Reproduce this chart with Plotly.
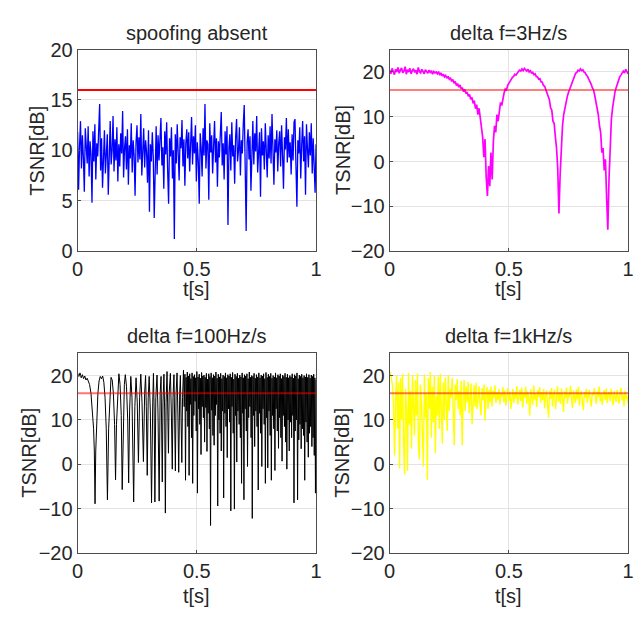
import numpy as np
import plotly.graph_objects as go

# ---------------- data ----------------
titles = ["spoofing absent", "delta f=3Hz/s", "delta f=100Hz/s", "delta f=1kHz/s"]
threshold = 16.0
x_ticks = [0, 0.5, 1]
x_tick_text = ["0", "0.5", "1"]
y_ticks_a = [0, 5, 10, 15, 20]
y_ticks_b = [-20, -10, 0, 10, 20]

tsnr_absent = [
    11.8, 6.1, 10.4, 12.9, 8.2, 11.5, 9.3, 5.9, 12.2, 10.1,
    8.7, 12.4, 7.4, 10.9, 9.6, 4.8, 11.9, 8.9, 12.6, 7.1,
    10.7, 9.4, 13.1, 14.6, 8.0, 11.2, 6.3, 10.8, 12.0, 7.7,
    9.9, 11.6, 5.6, 10.3, 12.9, 8.6, 10.0, 13.4, 7.9, 11.1,
    9.0, 12.3, 6.9, 10.6, 8.4, 11.7, 9.7, 13.9, 7.3, 10.2,
    11.4, 8.1, 12.1, 6.6, 10.5, 9.2, 12.7, 7.8, 11.0, 9.5,
    5.5, 10.8, 12.5, 8.8, 11.3, 9.1, 13.6, 7.5, 10.4, 12.2,
    8.3, 11.0, 9.8, 6.8, 12.0, 3.9, 10.6, 8.9, 11.8, 9.3,
    3.3, 10.1, 12.4, 7.6, 11.5, 9.0, 10.9, 13.2, 8.5, 10.3,
    6.2, 11.9, 9.6, 12.8, 8.0, 4.7, 11.2, 9.4, 12.3, 7.2,
    10.0, 1.2, 11.6, 8.7, 12.6, 9.9, 7.0, 11.3, 10.2, 13.0,
    8.4, 11.1, 6.5, 10.7, 12.1, 9.2, 11.8, 7.9, 10.5, 13.3,
    8.6, 11.4, 9.7, 12.5, 6.9, 10.8, 9.0, 4.7, 11.7, 10.3,
    7.4, 12.2, 9.5, 14.6, 8.2, 11.0, 10.6, 5.1, 12.7, 9.8,
    11.5, 7.7, 10.4, 12.9, 8.8, 11.2, 6.4, 10.9, 9.3, 12.0,
    13.8, 8.5, 10.7, 7.1, 11.9, 9.6, 12.4, 2.6, 10.2, 11.6,
    8.0, 12.8, 9.4, 10.5, 6.7, 11.3, 13.1, 8.9, 10.0, 12.3,
    7.5, 11.0, 9.7, 12.6, 14.5, 8.3, 2.0, 10.8, 12.1, 9.1,
    11.4, 6.0, 10.6, 12.9, 8.6, 11.7, 9.9, 13.4, 7.8, 10.3,
    11.8, 5.4, 12.2, 9.5, 10.9, 8.1, 12.7, 10.0, 7.3, 11.5,
    9.2, 12.4, 8.7, 13.6, 10.4, 6.6, 11.1, 9.8, 12.0, 7.9,
    10.7, 11.9, 8.4, 12.5, 9.6, 6.2, 11.3, 10.1, 13.2, 8.8,
    12.1, 9.3, 10.8, 7.6, 11.6, 9.0, 12.8, 13.1, 8.5, 4.4,
    11.0, 9.7, 12.3, 7.2, 10.5, 12.9, 8.9, 11.4, 5.6, 12.6,
    10.2, 8.3, 11.8, 9.5, 12.7, 7.7, 11.2, 9.1, 5.8, 10.6,
]

tsnr_3hz = [
    20.3, 19.6, 20.8, 20.1, 19.4, 20.6, 20.0, 21.0, 19.7, 20.4,
    20.9, 19.8, 20.2, 21.2, 19.5, 20.5, 20.0, 20.8, 19.6, 20.3,
    20.7, 19.9, 20.4, 19.5, 21.0, 20.1, 19.8, 20.6, 20.0, 19.6,
    20.5, 20.2, 19.7, 20.4, 19.9, 20.3, 19.5, 20.1, 19.8, 20.0,
    19.6, 20.1, 19.3, 19.8, 19.1, 19.5, 18.9, 19.2, 18.6, 19.0,
    18.4, 18.7, 17.9, 18.3, 17.5, 17.9, 17.0, 17.4, 16.6, 17.1,
    16.2, 16.5, 15.6, 16.1, 15.2, 15.5, 14.6, 15.0, 13.9, 14.3,
    13.0, 13.6, 11.8, 12.7, 10.5, 11.9,
    9.5, 7.0, 5.5, 1.0, 5.0, -3.5, -7.7, -1.0, -5.5, 2.0, -4.0, 4.5, 8.0, 6.5,
    10.5, 9.0, 12.0, 13.2, 12.5, 14.5, 15.3, 16.2, 16.0, 17.0,
    17.5, 17.9, 18.4, 18.8, 19.0, 19.5, 19.3, 19.9, 20.1, 20.4,
    20.2, 20.7, 20.3, 20.8, 20.5, 20.2, 20.6, 20.0, 20.3, 19.8,
    19.9, 19.4, 19.6, 19.0, 18.9, 18.4, 18.5, 17.8, 17.7, 17.0,
    16.8, 16.0, 15.6, 14.5, 13.8, 12.0, 11.5, 9.0, 8.5, 5.5,
    3.0, -1.5, -11.6, -3.0, 4.0, 8.0, 10.5, 12.0, 13.5, 14.5, 15.4, 16.2, 17.0,
    17.8, 18.6, 19.0, 19.7, 19.9, 20.4, 20.2, 20.7, 20.3, 20.5,
    20.0, 19.8, 19.3, 19.0, 18.4, 17.9, 17.3, 16.5, 16.0, 14.8, 13.5, 12.0,
    10.5, 8.0, 6.5, 2.0, 3.0, -2.0, 0.5, -8.0, -15.2,
    -4.0, 5.0, 9.5, 12.0, 14.0, 15.5, 16.5,
    17.5, 18.2, 18.9, 19.3, 19.8, 20.2, 19.8, 20.6, 20.1, 19.6,
]

# 100 Hz/s: early (sparse) part as explicit time/value pairs
t_100_early = [
    0.0, 0.005, 0.01, 0.015, 0.02, 0.025, 0.03, 0.035, 0.04, 0.045, 0.05,
    0.056, 0.062, 0.067, 0.07, 0.073, 0.076, 0.08, 0.085, 0.09, 0.095, 0.1, 0.105,
    0.11, 0.115, 0.12, 0.125, 0.13, 0.135, 0.14, 0.145, 0.15, 0.155, 0.159, 0.163,
    0.168, 0.173, 0.178, 0.183, 0.187, 0.191, 0.196, 0.2, 0.205, 0.21, 0.214, 0.218,
    0.223, 0.228, 0.235, 0.24, 0.245, 0.25, 0.255, 0.26, 0.265, 0.27, 0.276, 0.281,
    0.285, 0.288, 0.292, 0.296, 0.3, 0.305, 0.31, 0.315, 0.318, 0.321, 0.324, 0.328,
    0.333, 0.337, 0.342, 0.346, 0.35, 0.352, 0.355, 0.358, 0.362, 0.365, 0.368, 0.371,
    0.375, 0.378, 0.381, 0.384, 0.389, 0.393, 0.397, 0.4, 0.404, 0.407, 0.41, 0.413,
    0.417, 0.421, 0.424, 0.428, 0.431, 0.434, 0.437, 0.44, 0.444, 0.447,
]
tsnr_100_early = [
    20.5, 19.8, 20.6, 19.5, 20.2, 19.3, 19.9, 19.0, 19.4, 18.6, 18.0,
    16.0, 12.0, 8.0, 3.0, -8.9, 3.0, 11.0, 16.0, 18.8, 19.8, 19.3, 19.9,
    18.5, 15.0, 8.0, -8.0, 8.0, 16.0, 19.6, 19.0, 16.0, 9.0, -3.5, 9.0,
    17.0, 20.4, 18.0, 11.0, -5.7, 10.0, 18.0, 20.2, 17.5, 10.0, -4.2, 12.0,
    19.8, 15.0, -8.5, 13.0, 19.5, 14.0, 0.4, 15.0, 20.3, 14.0, 0.6, 16.0,
    20.0, 13.0, -2.5, 15.0, 19.8, 12.0, -8.7, 14.0, 20.5, 12.0, -8.5, 15.0,
    20.1, 12.0, -8.3, 16.0, 19.8, 10.0, -4.0, 14.0, 20.3, 12.0, -11.0, 14.0,
    20.9, 12.0, 2.5, 16.0, 20.5, 12.0, -1.1, 15.0, 20.2, 10.0, -1.5, 16.0,
    20.6, 10.0, -1.8, 16.0, 20.0, 10.0, 0.4, 15.0, 21.2, 13.0,
]
# 100 Hz/s: dense part from t=0.45 to 1, (peak, trough) pairs on an even grid
tsnr_100_dense = [
    20.3, -3.6, 19.6, 12.0, 20.8, 8.5, 19.9, -2.5, 20.4, 13.5,
    19.3, 6.0, 20.6, -4.3, 19.8, 11.0, 20.2, 14.2, 19.5, 7.5,
    20.9, -6.5, 19.7, 12.5, 20.3, 9.0, 19.4, 2.2, 20.7, 13.0,
    19.9, 10.5, 20.1, 5.0, 19.6, 12.8, 20.5, 2.9, 19.2, 11.5,
    20.4, 8.0, 19.8, -13.8, 20.6, 12.2, 19.5, 6.5, 20.2, 4.3,
    19.9, 11.0, 20.8, 13.5, 19.4, -9.4, 20.3, 10.0, 19.7, 7.0,
    20.5, 3.0, 19.3, 12.0, 20.1, -7.6, 19.8, 11.5, 20.6, 8.5,
    19.5, 1.5, 20.2, 12.5, 19.9, 9.5, 20.4, -10.5, 19.6, 13.0,
    20.7, 7.0, 19.2, -10.1, 20.3, 11.0, 19.8, 0.5, 20.5, 12.0,
    19.4, 9.0, 20.1, 6.0, 19.7, -4.3, 20.6, 11.5, 19.5, -8.0,
    20.2, 12.5, 19.9, 7.5, 20.4, -0.5, 19.3, 10.5, 20.8, 13.0,
    19.6, 6.0, 20.0, -12.2, 19.8, 11.0, 20.5, 4.0, 19.4, 12.0,
    20.2, 8.5, 19.7, -5.8, 20.6, 11.5, 19.5, 7.0, 20.1, -0.5,
    19.9, 12.5, 20.4, 9.0, 19.3, -4.3, 20.7, 10.5, 19.6, -0.8,
    20.3, 12.0, 19.8, 6.5, 20.5, -3.6, 19.4, 11.0, 20.0, 8.0,
    19.7, -1.4, 20.6, 12.5, 19.5, 7.5, 20.2, 3.6, 19.9, 10.5,
    20.4, 6.0, 19.3, 0.7, 20.1, 11.0, 19.8, 8.5, 20.5, 5.0,
    19.6, -1.1, 20.3, 10.0, 19.5, 3.0, 20.0, 9.5, 19.7, 6.0,
    20.4, 11.0, 19.4, -8.7, 20.2, 7.5, 19.9, 10.0, 20.6, -8.0,
    19.3, 5.5, 20.1, 9.0, 19.8, 3.5, 20.3, 8.0, 19.5, 6.5,
    20.0, -3.6, 19.7, 9.5, 20.4, 5.0, 19.6, 1.6, 20.2, 7.0,
    19.4, 8.5, 20.1, 4.0, 19.8, 6.0, 20.3, 2.0, 19.5, -6.5,
    19.0,
]

tsnr_1khz = [
    20.9, 20.3, 19.0, 17.5, 12.0, 2.0, 15.0, 20.0, 8.0, 18.5,
    -0.9, 19.5, 10.0, 20.4, 5.0, -2.3, 17.0, 12.0, -1.5, 20.6,
    9.0, 16.5, 3.5, 20.2, 13.0, 6.5, 19.0, 11.0, 20.5, 4.0,
    1.1, 18.0, 14.0, 7.5, -0.5, 20.3, 10.5, 16.0, -3.6, 19.5,
    12.5, 20.8, 6.0, 17.5, 9.5, 20.0, 2.5, 15.5, 11.0, 19.8,
    8.0, 20.4, 13.5, 4.7, 18.5, 10.0, 19.6, 14.5, 7.5, 20.2,
    12.0, 17.0, 15.0, 19.5, 13.0, 4.3, 18.0, 14.5, 19.2, 12.5,
    16.5, 11.0, 18.8, 4.3, 15.0, 19.0, 12.0, 17.5, 14.0, 18.6,
    11.5, 16.0, 18.2, 9.1, 15.5, 17.8, 13.0, 18.4, 12.5, 16.5,
    17.6, 13.5, 11.0, 17.2, 14.5, 18.0, 9.8, 16.0, 17.4, 12.5,
    16.8, 14.0, 17.5, 13.0, 16.5, 15.0, 17.8, 13.8, 16.2, 14.5,
    17.0, 13.5, 16.0, 15.2, 17.4, 14.0, 16.6, 13.2, 15.8, 17.2,
    14.3, 16.4, 12.5, 15.6, 17.0, 13.8, 16.2, 14.8, 17.6, 13.5,
    15.9, 16.8, 14.2, 17.3, 12.8, 16.1, 15.0, 17.5, 13.6, 16.4,
    14.8, 11.0, 16.9, 15.3, 13.4, 17.8, 14.6, 16.0, 12.9, 16.7,
    15.2, 17.4, 13.9, 16.3, 14.5, 17.0, 12.6, 15.8, 16.6, 13.3,
    10.5, 16.5, 14.7, 17.2, 13.0, 15.9, 16.8, 12.4, 15.5, 17.6,
    14.1, 16.2, 13.6, 17.1, 15.0, 11.8, 16.4, 14.9, 17.3, 13.7,
    16.0, 15.1, 17.7, 14.4, 12.7, 16.6, 15.4, 13.8, 16.9, 14.6,
    17.4, 13.2, 15.7, 16.5, 14.0, 12.2, 16.3, 15.0, 17.0, 13.9,
    15.6, 16.8, 14.3, 13.0, 16.1, 15.5, 17.2, 14.7, 13.6, 16.4,
    15.2, 17.5, 14.1, 16.0, 13.4, 15.8, 16.7, 14.5, 17.1, 13.8,
    15.9, 16.3, 14.2, 17.0, 15.1, 13.3, 16.5, 15.6, 14.0, 16.8,
    15.3, 13.6, 16.2, 17.2, 14.4, 15.7, 13.1, 16.6, 14.8, 15.5,
    13.8,
]

# time axes (sample grids)
t_absent = np.linspace(0, 1, len(tsnr_absent))
t_3hz = np.linspace(0, 1, len(tsnr_3hz))
t_100 = list(t_100_early) + list(np.linspace(0.45, 1.0, len(tsnr_100_dense)))
tsnr_100 = tsnr_100_early + tsnr_100_dense
t_1khz = np.linspace(0, 1, len(tsnr_1khz))

# ---------------- figure ----------------
W, H = 638, 619
FONT = "Liberation Sans, Arial, sans-serif"
FS = 20
TXT = "#262626"

def px_x(p):
    return p / W

def px_y(p):
    return 1 - p / H

panels = [
    dict(t=t_absent, y=tsnr_absent, color="#0000ff", lw=1.3, rng=[0, 20], ticks=y_ticks_a,
         x0=73, x1=316, y0=40, y1=249, red="rgba(255,0,0,1)", ytitle_x=32,
         title_y=23, xtitle_y=288),
    dict(t=t_3hz, y=tsnr_3hz, color="#ff00ff", lw=1.7, rng=[-20, 25], ticks=y_ticks_b,
         x0=391, x1=634, y0=40, y1=249, red="rgba(255,0,0,0.5)", ytitle_x=344,
         title_y=23, xtitle_y=288),
    dict(t=t_100, y=tsnr_100, color="#000000", lw=1.0, rng=[-20, 25], ticks=y_ticks_b,
         x0=73, x1=316, y0=355, y1=562, red="rgba(255,0,0,0.55)", ytitle_x=24,
         title_y=337, xtitle_y=607),
    dict(t=t_1khz, y=tsnr_1khz, color="#ffff00", lw=1.4, rng=[-20, 25], ticks=y_ticks_b,
         x0=391, x1=634, y0=355, y1=562, red="rgba(255,0,0,0.55)", ytitle_x=343,
         title_y=337, xtitle_y=607),
]

fig = go.Figure()
annotations = []
for i, p in enumerate(panels):
    n = "" if i == 0 else str(i + 1)
    xa, ya = "x" + n, "y" + n
    fig.add_trace(go.Scatter(x=p["t"], y=p["y"], mode="lines", xaxis=xa, yaxis=ya,
                             line=dict(color=p["color"], width=p["lw"]), showlegend=False,
                             hoverinfo="skip"))
    fig.add_trace(go.Scatter(x=[0, 1], y=[threshold, threshold], mode="lines", xaxis=xa, yaxis=ya,
                             line=dict(color=p["red"], width=2), showlegend=False,
                             hoverinfo="skip"))
    axis_common = dict(showline=True, mirror=True, linecolor="#4d4d4d", linewidth=1,
                       showgrid=True, gridcolor="#e3e3e3", gridwidth=1, zeroline=False,
                       ticks="inside", ticklen=3, tickcolor="#4d4d4d",
                       tickfont=dict(family=FONT, size=FS, color=TXT))
    fig.update_layout(**{
        ("xaxis" + n): dict(domain=[px_x(p["x0"]), px_x(p["x1"])], range=[0, 1],
                            tickvals=x_ticks, ticktext=x_tick_text, anchor=ya, **axis_common),
        ("yaxis" + n): dict(domain=[px_y(p["y1"]), px_y(p["y0"])], range=p["rng"],
                            tickvals=p["ticks"], anchor=xa, **axis_common),
    })
    cx = (p["x0"] + p["x1"]) / 2
    annotations.append(dict(text=titles[i], x=px_x(cx), y=px_y(p["title_y"]), xref="paper",
                            yref="paper", showarrow=False, xanchor="center", yanchor="middle",
                            font=dict(family=FONT, size=FS, color=TXT)))
    annotations.append(dict(text="t[s]", x=px_x(cx), y=px_y(p["xtitle_y"]), xref="paper",
                            yref="paper", showarrow=False, xanchor="center", yanchor="middle",
                            font=dict(family=FONT, size=FS, color=TXT)))
    annotations.append(dict(text="TSNR[dB]", x=px_x(p["ytitle_x"]), y=px_y((p["y0"] + p["y1"]) / 2),
                            xref="paper", yref="paper", showarrow=False, textangle=-90,
                            xanchor="center", yanchor="middle",
                            font=dict(family=FONT, size=FS, color=TXT)))

fig.update_layout(width=W, height=H, margin=dict(l=0, r=0, t=0, b=0),
                  paper_bgcolor="white", plot_bgcolor="white", annotations=annotations)

fig.write_html("out.html")
